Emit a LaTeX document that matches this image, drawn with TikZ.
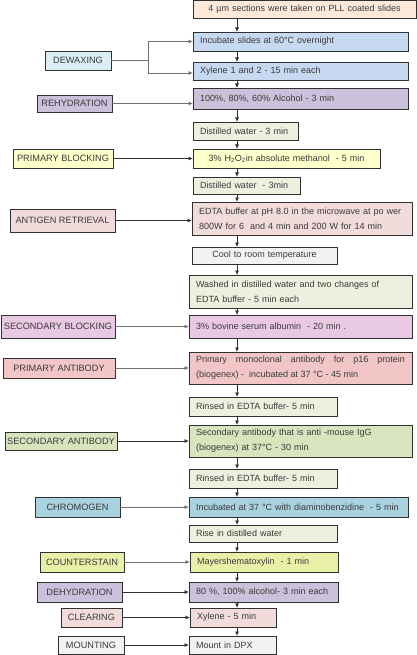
\documentclass[tikz,border=0pt]{standalone}
\usepackage{fontspec}
\setmainfont{Liberation Sans}
\usetikzlibrary{arrows.meta}
\definecolor{txt}{HTML}{3A3A3A}
\definecolor{ln}{HTML}{303030}
\definecolor{lng}{HTML}{707070}
\definecolor{cPeach}{HTML}{FDE9D9}
\definecolor{cBlue}{HTML}{C6D9F1}
\definecolor{cCyan}{HTML}{DAEEF3}
\definecolor{cLav}{HTML}{CCC1DA}
\definecolor{cGrn}{HTML}{EBF1DE}
\definecolor{cYel}{HTML}{FFFFCC}
\definecolor{cPink}{HTML}{F2DCDB}
\definecolor{cGrey}{HTML}{F2F2F2}
\definecolor{cMag}{HTML}{E9C8E3}
\definecolor{cRose}{HTML}{F2C6C6}
\definecolor{cOlive}{HTML}{D7E4BD}
\definecolor{cAqua}{HTML}{A8D2DE}
\definecolor{cLime}{HTML}{E8F0A8}
\tikzset{
  box/.style={draw=ln, line width=0.8pt, inner xsep=7pt, inner ysep=0pt, outer sep=0pt,
    text=txt, font=\fontsize{9}{15}\selectfont, anchor=center},
  lbox/.style={box, inner xsep=0pt, align=center, font=\fontsize{9.2}{15}\selectfont},
  arr/.style={draw=ln, line width=0.8pt, -{Latex[length=4.5pt,width=4pt]}},
  arrg/.style={arr, draw=lng},
}
\newcommand\bx[8]{%
  \pgfmathsetmacro\bxw{#4-#2}\pgfmathsetmacro\bxh{#5-#3}\pgfmathsetmacro\bxt{#4-#2-14}%
  \node[box, fill=#6, minimum width=\bxw pt, minimum height=\bxh pt, text width=\bxt pt, align=#7] (#1) at ({(#2+#4)/2},{(#3+#5)/2}) {#8};}
\newcommand\lbx[7]{%
  \pgfmathsetmacro\bxw{#4-#2}\pgfmathsetmacro\bxh{#5-#3}%
  \node[lbox, fill=#6, minimum width=\bxw pt, minimum height=\bxh pt] (#1) at ({(#2+#4)/2},{(#3+#5)/2}) {\makebox[0pt]{#7}};}
\begin{document}
\hyphenpenalty=10000\relax
\begin{tikzpicture}[x=1pt,y=-1pt]
\fill[white] (0,0) rectangle (417,655);
\useasboundingbox (0,0) rectangle (417,655);
% main column
\bx{top}{193}{0}{416}{18}{cPeach}{center}{4 µm sections were taken on PLL coated slides}
\bx{inc}{193}{32}{408}{51}{cBlue}{left}{Incubate slides at 60°C overnight}
\bx{xyl}{193}{62}{408}{80}{cBlue}{left}{Xylene 1 and 2 - 15 min each}
\bx{alc}{193}{88}{408}{109}{cLav}{left}{100\%, 80\%, 60\% Alcohol - 3 min}
\bx{dwa}{193}{122}{298}{140}{cGrn}{left}{Distilled water - 3 min}
\bx{hoo}{193}{149}{380}{168}{cYel}{center}{3\% H\textsubscript{2}O\textsubscript{2}in absolute methanol \ - 5 min}
\bx{dwb}{193}{177}{300}{194}{cGrn}{left}{Distilled water \ - 3min}
\bx{edta}{192}{202}{412}{235}{cPink}{left}{EDTA buffer at pH 8.0 in the microwave at po wer\\800W for 6 \ and 4 min and 200 W for 14 min}
\bx{cool}{192}{247}{337}{264}{cGrey}{center}{Cool to room temperature}
\bx{wash}{189}{275}{412}{308}{cGrn}{left}{Washed in distilled water and two changes of\\EDTA buffer - 5 min each}
\bx{bsa}{189}{315}{412}{338}{cMag}{left}{3\% bovine serum albumin \ - 20 min .}
\bx{pmab}{189}{352}{412}{384}{cRose}{justify}{Primary monoclonal antibody for p16 protein\linebreak (biogenex) - \ incubated at 37 °C - 45 min}
\bx{rina}{189}{397}{337}{416}{cGrn}{left}{Rinsed in EDTA buffer- 5 min}
\bx{smab}{189}{425}{412}{457}{cOlive}{left}{Secondary antibody that is anti -mouse IgG\\(biogenex) at 37°C - 30 min}
\bx{rinb}{189}{469}{337}{488}{cGrn}{left}{Rinsed in EDTA buffer- 5 min}
\bx{dab}{189}{497}{408}{517}{cAqua}{left}{Incubated at 37 °C with diaminobenzidine \ - 5 min}
\bx{rise}{189}{525}{337}{542}{cGrn}{left}{Rise in distilled water}
\bx{may}{190}{552}{338}{572}{cLime}{left}{Mayershematoxylin \ - 1 min}
\bx{alcb}{189}{582}{338}{602}{cLav}{left}{80 \%, 100\% alcohol- 3 min each}
\bx{xylb}{190}{608}{276}{627}{cPink}{left}{Xylene - 5 min}
\bx{dpx}{189}{636}{276}{654}{cGrey}{left}{Mount in DPX}
% left column
\lbx{dew}{45}{51}{111}{70}{cCyan}{DEWAXING}
\lbx{reh}{37}{95}{112}{112}{cLav}{REHYDRATION}
\lbx{pbl}{13}{149}{113}{168}{cYel}{PRIMARY BLOCKING}
\lbx{ar}{10}{209}{115}{232}{cPink}{ANTIGEN RETRIEVAL}
\lbx{sbl}{1}{315}{115}{338}{cMag}{SECONDARY BLOCKING}
\lbx{pab}{3}{358}{115}{378}{cRose}{PRIMARY ANTIBODY}
\lbx{sab}{5}{432}{117}{450}{cOlive}{SECONDARY ANTIBODY}
\lbx{chm}{35}{497}{120}{517}{cAqua}{CHROMOGEN}
\lbx{cst}{40}{552}{124}{572}{cLime}{COUNTERSTAIN}
\lbx{dhy}{37}{582}{122}{602}{cLav}{DEHYDRATION}
\lbx{clr}{61}{608}{122}{627}{cPink}{CLEARING}
\lbx{mnt}{58}{636}{124}{654}{cGrey}{MOUNTING}
% spine arrows
\coordinate (sp) at (237,0);
\foreach \a/\b in {top/inc,inc/xyl,xyl/alc,alc/dwa,dwa/hoo,hoo/dwb,dwb/edta,edta/cool,cool/wash,wash/bsa,bsa/pmab,pmab/rina,rina/smab,smab/rinb,rinb/dab,dab/rise,rise/may,may/alcb,alcb/xylb,xylb/dpx}
  \draw[arr] (\a.south -| sp) -- (\b.north -| sp);
% dewaxing split
\coordinate (split) at (148,61);
\coordinate (ya) at (0,41.5);
\coordinate (yb) at (0,73);
\draw[draw=lng, line width=0.8pt] (dew.east) -- (dew.east -| split);
\draw[draw=lng, line width=0.8pt] (split |- ya) -- (split |- yb);
\draw[arrg] (split |- ya) -- (inc.west |- ya);
\draw[arrg] (split |- yb) -- (xyl.west |- yb);
% side arrows
\draw[arrg] (reh.east) -- (reh.east -| alc.west);
\draw[arr] (pbl.east) -- (pbl.east -| hoo.west);
\draw[arr] (ar.east) -- (ar.east -| edta.west);
\draw[arrg] (sbl.east) -- (sbl.east -| bsa.west);
\draw[arrg] (pab.east) -- (pab.east -| pmab.west);
\draw[arr] (sab.east) -- (sab.east -| smab.west);
\draw[arrg] (chm.east) -- (chm.east -| dab.west);
\draw[arrg] (cst.east) -- (cst.east -| may.west);
\draw[arr] (dhy.east) -- (dhy.east -| alcb.west);
\draw[arr] (clr.east) -- (clr.east -| xylb.west);
\draw[arr] (mnt.east) -- (mnt.east -| dpx.west);
\end{tikzpicture}
\end{document}
